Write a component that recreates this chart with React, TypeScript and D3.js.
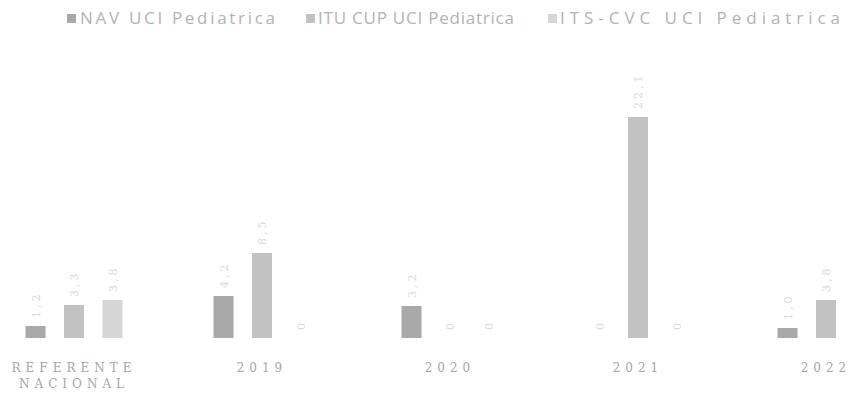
import React from "react";
import * as d3 from "d3";

const categories = ["REFERENTE NACIONAL", "2019", "2020", "2021", "2022"];
const series = ["NAV UCI Pediatrica", "ITU CUP  UCI Pediatrica", "ITS-CVC UCI Pediatrica"];
const navValues = [1.2, 4.2, 3.2, 0, 1.0];
const ituValues = [3.3, 8.5, 0, 22.1, 3.8];
const itsValues = [3.8, 0, 0, 0, 0];
const colors = ["#a9a9a9", "#c2c2c2", "#d6d6d6"];

const W = 850;
const H = 402;

export default function App() {
  const valuesBySeries = [navValues, ituValues, itsValues];
  const x0 = d3.scaleBand().domain(categories).range([-20, 920]).padding(0);
  const x1 = d3
    .scaleBand()
    .domain(series)
    .range([-57.75, 57.75])
    .paddingInner(0.48)
    .paddingOuter(0.24);
  const y = d3.scaleLinear().domain([0, 25]).range([338, 88]);
  const fmt = (v: number) => (v === 0 ? "0" : d3.format(".1f")(v).replace(".", ","));

  const legendItems = [
    { x: 67, tx: 80, tw: 195 },
    { x: 306, tx: 318, tw: 196 },
    { x: 548, tx: 560, tw: 280 },
  ];

  return (
    <svg width={W} height={H} style={{ position: "absolute", left: 0, top: 0, background: "#fff" }}>
      {series.map((s, i) => (
        <g key={s}>
          <rect x={legendItems[i].x} y={14} width={9} height={9} fill={colors[i]} />
          <text
            x={legendItems[i].tx}
            y={24}
            fontFamily="'Open Sans', sans-serif"
            fontSize={17}
            fill="#b3b3b3"
            textLength={legendItems[i].tw}
            lengthAdjust="spacing"
          >
            {s}
          </text>
        </g>
      ))}
      {categories.map((c, ci) => {
        const cx = (x0(c) as number) + x0.bandwidth() / 2;
        return (
          <g key={c}>
            {series.map((s, si) => {
              const v = valuesBySeries[si][ci];
              const bx = cx + (x1(s) as number);
              const by = y(v);
              const lx = bx + x1.bandwidth() / 2 + 4;
              return (
                <g key={s}>
                  {v > 0 && (
                    <rect x={bx} y={by} width={x1.bandwidth()} height={y(0) - by} fill={colors[si]} />
                  )}
                  {lx < W - 8 && (
                    <text
                      transform={`translate(${lx},${by - 8}) rotate(-90)`}
                      fontFamily="'DejaVu Serif', serif"
                      fontSize={11}
                      fill="#d9d9d9"
                      letterSpacing={3}
                    >
                      {fmt(v)}
                    </text>
                  )}
                </g>
              );
            })}
            {c.split(" ").map((line, li) => (
              <text
                key={li}
                x={cx}
                y={372 + li * 16}
                textAnchor="middle"
                fontFamily="'DejaVu Serif', serif"
                fontSize={12}
                fill="#a6a6a6"
                letterSpacing={5}
              >
                {line}
              </text>
            ))}
          </g>
        );
      })}
    </svg>
  );
}
